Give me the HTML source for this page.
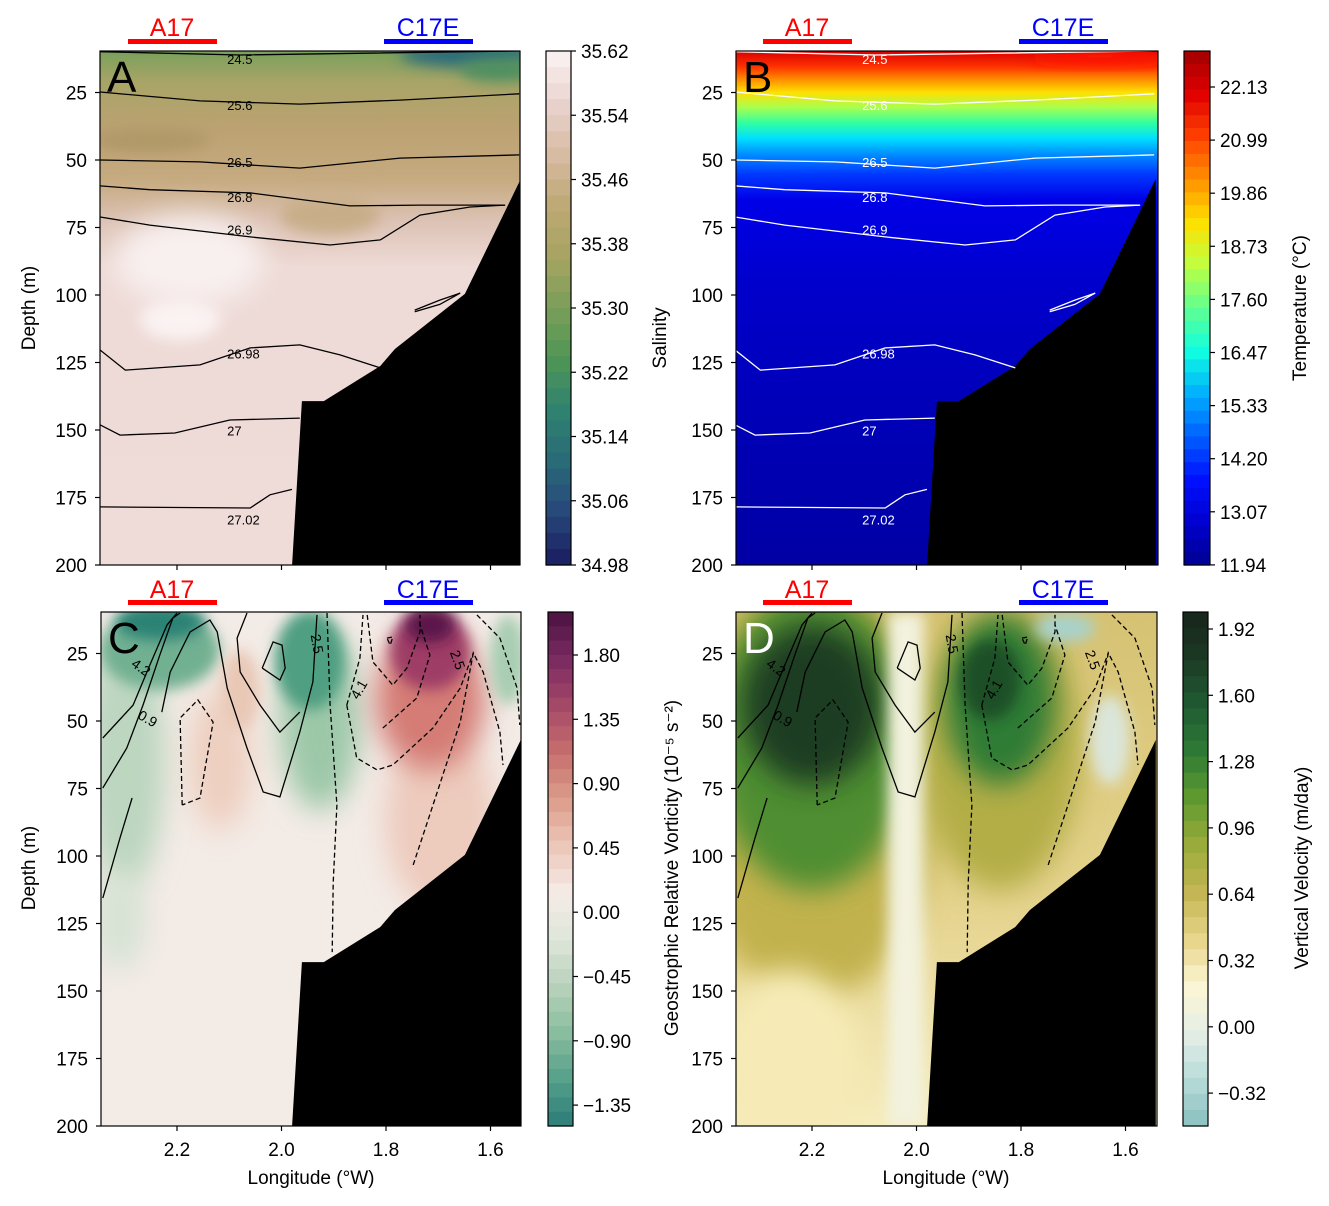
<!DOCTYPE html>
<html><head><meta charset="utf-8">
<style>
body{margin:0;background:#fff;}
svg{display:block;font-family:"Liberation Sans","DejaVu Sans",sans-serif;}
</style></head>
<body>
<svg id="fig" width="1329" height="1206" viewBox="0 0 1329 1206" xmlns="http://www.w3.org/2000/svg">
<defs>
 <filter id="b1" x="-50%" y="-50%" width="200%" height="200%"><feGaussianBlur stdDeviation="14"/></filter>
 <filter id="b2" x="-50%" y="-50%" width="200%" height="200%"><feGaussianBlur stdDeviation="7"/></filter>
 <clipPath id="cA"><rect x="100" y="51" width="420" height="514"/></clipPath>
 <clipPath id="cB"><rect x="736" y="51" width="422" height="514"/></clipPath>
 <clipPath id="cC"><rect x="101" y="612" width="420" height="514"/></clipPath>
 <clipPath id="cD"><rect x="736" y="612" width="421" height="514"/></clipPath>
 <linearGradient id="gA" x1="0" y1="0" x2="0" y2="1">
  <stop offset="0" stop-color="#79a05c"/><stop offset="0.06" stop-color="#a8a466"/>
  <stop offset="0.15" stop-color="#bca272"/><stop offset="0.25" stop-color="#c6aa80"/>
  <stop offset="0.33" stop-color="#dcc2b4"/><stop offset="0.42" stop-color="#eedad6"/>
  <stop offset="1" stop-color="#efdcd9"/>
 </linearGradient>
 <linearGradient id="gB" x1="0" y1="0" x2="0" y2="1">
  <stop offset="0" stop-color="#d80000"/><stop offset="0.03" stop-color="#ff3000"/>
  <stop offset="0.055" stop-color="#ff8c00"/><stop offset="0.08" stop-color="#ffe000"/>
  <stop offset="0.11" stop-color="#a8ff50"/><stop offset="0.14" stop-color="#30ffa0"/>
  <stop offset="0.17" stop-color="#00e0ff"/><stop offset="0.20" stop-color="#0090ff"/>
  <stop offset="0.24" stop-color="#0038ff"/><stop offset="0.29" stop-color="#0000e8"/>
  <stop offset="0.45" stop-color="#0000cc"/><stop offset="0.7" stop-color="#0000b8"/>
  <stop offset="1" stop-color="#0000a4"/>
 </linearGradient>
 <linearGradient id="gD" x1="0" y1="0" x2="0" y2="1">
  <stop offset="0" stop-color="#d6c272"/><stop offset="0.55" stop-color="#e4d28c"/>
  <stop offset="1" stop-color="#f6ecbc"/>
 </linearGradient>
</defs>
<g id="root"></g>
</svg>
<script>
// ---------- data ----------
const depthTicks = [25,50,75,100,125,150,175,200];
const lonTicks = [2.2,2.0,1.8,1.6];
const lonTickLabels = ["2.2","2.0","1.8","1.6"];
// bathymetry (lon, depth)
const bathyLon = [1.980,1.961,1.919,1.811,1.783,1.649,1.542,1.542];
const bathyDep = [200.5,139.3,139.3,126.3,120.0,99.6,57.0,200.5];
// isopycnals panels A/B
const isoNames = ["24.5","25.6","26.5","26.8","26.9","26.98","27","27.02"];
const isoLon = [
 [2.347,2.079,1.545],
 [2.347,2.156,1.965,1.773,1.545],
 [2.347,2.156,1.965,1.773,1.545],
 [2.347,2.252,2.060,1.869,1.735,1.572],
 [2.347,2.252,2.060,1.907,1.811,1.735,1.639,1.572],
 [2.347,2.299,2.156,2.060,1.965,1.888,1.811],
 [2.347,2.309,2.204,2.099,1.965],
 [2.347,2.060,2.022,1.980]
];
const isoDep = [
 [9.9,11.1,9.6],
 [24.8,28.1,29.3,27.8,25.5],
 [50.0,50.7,53.0,49.3,48.1],
 [59.6,61.0,62.2,67.0,66.7,66.7],
 [71.1,74.1,78.5,81.5,79.6,70.4,67.4,66.7],
 [120.4,127.8,125.9,119.6,118.5,122.2,127.0],
 [148.1,151.9,151.1,146.3,145.6],
 [178.5,178.9,174.0,172.0]
];
const isoLabelDep = [14.5,31.5,52.5,65.5,77.5,123.5,152,185];
const smallIsoLon = [1.745,1.697,1.658,1.697,1.745];
const smallIsoDep = [105.6,101.9,99.3,103.5,106.2];
// contours panels C/D
const cLon = [
 [2.342,2.284,2.252,2.219,2.200],
 [2.342,2.296,2.265,2.233,2.208,2.194],
 [2.342,2.309,2.286],
 [2.229,2.213,2.175,2.137,2.123,2.104,2.066,2.035,2.003,1.965,1.940,1.932],
 [2.066,2.085,2.079,2.041,2.003,1.965],
 [2.037,2.016,1.999,1.993,2.003,2.037],
 [2.190,2.194,2.160,2.131,2.156,2.190],
 [1.913,1.907,1.894,1.901,1.903],
 [1.875,1.850,1.844],
 [1.875,1.856,1.817,1.787,1.710,1.658,1.633],
 [1.836,1.825,1.787,1.760,1.735,1.735],
 [1.806,1.741,1.716,1.735],
 [1.748,1.710,1.658,1.633,1.614,1.582,1.576],
 [1.626,1.582,1.549,1.544],
 [1.798,1.787,1.792,1.798]
];
const cDep = [
 [56.3,44.1,29.3,14.4,10.0],
 [74.8,60.0,44.1,25.6,11.9,10.0],
 [115.6,93.3,78.5],
 [46.7,31.9,17.0,12.6,17.0,37.8,60.0,76.3,78.1,54.1,35.5,10.7],
 [10.0,19.3,31.9,44.1,54.1,46.7],
 [30.4,20.7,21.9,30.4,34.8,30.4],
 [81.1,48.9,42.2,50.4,78.5,81.1],
 [10.0,44.1,81.1,110,135.6],
 [44.1,26.7,10.7],
 [44.1,63.7,68.1,66.3,52.6,37.8,24.8],
 [10.7,28.1,36.7,30.4,17.0,10.7],
 [52.6,41.5,25.6,14.4],
 [103.3,81.1,50.4,24.8,31.9,54.1,66.3],
 [10.7,19.3,37.8,51.5],
 [19.3,18.9,21.9,19.3]
];
const cDash = [0,0,0,0,0,0,1,1,1,1,1,1,1,1,1];
const cLabels = ["4.2","0.9","2.5","4.1","2.5"];
const cLabLon = [2.270,2.257,1.934,1.850,1.665];
const cLabDep = [30.5,49.5,21.5,38.5,27.5];
const cLabRot = [35,30,80,-60,70];
// colorbars
const cbTicksA = ["35.62","35.54","35.46","35.38","35.30","35.22","35.14","35.06","34.98"];
const cbColsA = ["#faf3f3","#ead3cf","#d9bca4","#bea874","#a8a462","#7a9e58","#4f9556","#2f8270","#2a6a78","#27477a","#1a1c60"];
const cbTicksB = ["22.13","20.99","19.86","18.73","17.60","16.47","15.33","14.20","13.07","11.94"];
const cbColsB = ["#a00000","#e00000","#ff4000","#ff9000","#ffe000","#c0ff40","#60ff90","#10ffe0","#00b0ff","#0060ff","#0010ff","#0000d0","#000090"];
const cbTicksC = ["1.80","1.35","0.90","0.45","0.00","\u22120.45","\u22120.90","\u22121.35"];
const cbColsC = ["#4a1240","#7a2a62","#a54868","#c66e6e","#dc9c8a","#ecc6b8","#f5ebe6","#dfe6da","#b8d2bc","#8abd9f","#55a08a","#2d7c78"];
const cbTicksD = ["1.92","1.60","1.28","0.96","0.64","0.32","0.00","\u22120.32"];
const cbColsD = ["#17241a","#1c3a24","#1f5a32","#2e7a34","#609a30","#9aab3a","#c4b654","#e6d488","#fcf6d4","#e6efe6","#b8dcd8","#88c0c0"];

// ---------- helpers ----------
const NS="http://www.w3.org/2000/svg";
const root=document.getElementById('root');
function mk(tag, attrs, parent){const e=document.createElementNS(NS,tag);for(const k in attrs)e.setAttribute(k,attrs[k]);(parent||root).appendChild(e);return e;}
function X(col,lon){return (col?812:177)+(2.2-lon)*522.5;}
function Y(row,d){return (row?1126:565)-(200-d)*2.7;}
function pts(col,row,lons,deps){return lons.map((l,i)=>X(col,l).toFixed(1)+","+Y(row,deps[i]).toFixed(1)).join(" ");}
function hex2rgb(h){return [1,3,5].map(i=>parseInt(h.substr(i,2),16));}
function interp(cols,t){const n=cols.length-1;const f=t*n;const i=Math.min(Math.floor(f),n-1);const u=f-i;const a=hex2rgb(cols[i]),b=hex2rgb(cols[i+1]);return "rgb("+a.map((v,k)=>Math.round(v+(b[k]-v)*u)).join(",")+")";}

const panels=[
 {id:"A",col:0,row:0,x0:100,x1:520,clip:"cA"},
 {id:"B",col:1,row:0,x0:736,x1:1158,clip:"cB"},
 {id:"C",col:0,row:1,x0:101,x1:521,clip:"cC"},
 {id:"D",col:1,row:1,x0:736,x1:1157,clip:"cD"}
];

function blob(g,cx,cy,rx,ry,fill,f){const e=mk('ellipse',{cx:cx,cy:cy,rx:rx,ry:ry,fill:fill,filter:'url(#'+(f||'b1')+')'},g);return e;}

panels.forEach(p=>{
 const top=p.row?612:51, bot=p.row?1126:565;
 const g=mk('g',{'clip-path':'url(#'+p.clip+')'});
 
 
 const w=p.x1-p.x0,h=bot-top;
 if(p.id==="A"){
  mk('rect',{x:p.x0,y:top,width:w,height:h,fill:'url(#gA)'},g);
  blob(g,470,55,70,12,'#2c6a7c','b2');
  blob(g,500,70,40,12,'#4f9060','b2');
  blob(g,150,140,60,12,'#b09868','b2');
  blob(g,330,215,50,20,'#c8ae88','b2');
  blob(g,190,260,75,45,'#f8f0ef','b1');
  blob(g,180,320,40,20,'#faf3f2','b2');
 } else if(p.id==="B"){
  mk('rect',{x:p.x0,y:top,width:w,height:h,fill:'url(#gB)'},g);
  blob(g,1100,56,70,8,'#ff1800','b2');
 } else if(p.id==="C"){
  mk('rect',{x:p.x0,y:top,width:w,height:h,fill:'#f3ebe6'},g);
  blob(g,440,820,55,90,'#edcbbd');
  blob(g,220,760,32,70,'#eecfc0');
  blob(g,125,760,40,130,'#bcd6c0');
  blob(g,120,920,25,50,'#d6e2d4');
  blob(g,320,720,40,90,'#9cc8a8');
  blob(g,310,660,35,50,'#4f9f82','b2');
  blob(g,160,650,60,40,'#72b092','b2');
  blob(g,160,622,45,18,'#2a8274','b2');
  blob(g,430,700,55,70,'#d47c74');
  blob(g,430,650,40,40,'#9e3c66','b2');
  blob(g,430,625,25,18,'#5c164c','b2');
  blob(g,508,660,18,45,'#a8cdb2','b2');
  blob(g,240,690,20,40,'#e9c8b6','b2');
 } else {
  mk('rect',{x:p.x0,y:top,width:w,height:h,fill:'url(#gD)'},g);
  blob(g,812,790,125,210,'#c2b24e');
  blob(g,812,740,100,150,'#4f8e30');
  blob(g,812,705,70,80,'#1f3d22');
  blob(g,1000,750,80,140,'#b4ae46');
  blob(g,1000,700,55,85,'#2f7c36');
  blob(g,990,680,30,40,'#1d4f26','b2');
  mk('rect',{x:888,y:612,width:36,height:514,fill:'#f2f2de',filter:'url(#b2)'},g);
  blob(g,1110,740,20,45,'#dbe6da','b2');
  blob(g,1065,628,30,14,'#a8d2cc','b2');
  blob(g,790,1060,70,90,'#f6ebb6');
 }
 // bathymetry
 const bp=mk('polygon',{points:pts(p.col,p.row,bathyLon,bathyDep),fill:'#000'},g);
 
 
 // contours
 if(p.row===0){
  const col=p.id==="A"?'#000':'#fff';
  isoLon.forEach((ls,i)=>{
   const l=mk('polyline',{points:pts(p.col,p.row,ls,isoDep[i]),fill:'none',stroke:col,'stroke-width':1.3},g);
   
   
   const t=mk('text',{x:X(p.col,2.104),y:Y(p.row,isoLabelDep[i]),'font-size':13,fill:col},g);
   t.textContent=isoNames[i];
   
   
  });
  mk('polyline',{points:pts(p.col,p.row,smallIsoLon,smallIsoDep),fill:'none',stroke:col,'stroke-width':1.3},g);
 } else {
  cLon.forEach((ls,i)=>{
   const a={points:pts(p.col,p.row,ls,cDep[i]),fill:'none',stroke:'#000','stroke-width':1.3};
   if(cDash[i])a['stroke-dasharray']='5,3';
   const l=mk('polyline',a,g);
   
   
  });
  cLabels.forEach((s,i)=>{
   const x=X(p.col,cLabLon[i]),y=Y(p.row,cLabDep[i]);
   const t=mk('text',{x:x,y:y,'font-size':14,fill:'#000','text-anchor':'middle','dominant-baseline':'middle',transform:'rotate('+cLabRot[i]+' '+x+' '+y+')'},g);
   t.textContent=s;
   
   
  });
 }
 // frame
 const fr=mk('rect',{x:p.x0,y:top,width:w,height:h,fill:'none',stroke:'#000','stroke-width':1.2});
 
 
 // panel letter
 const L=mk('text',{x:p.x0+7,y:top+41,'font-size':44,fill:p.id==="D"?'#fff':'#000'});
 L.textContent=p.id;
 
 
 // y ticks
 depthTicks.forEach(d=>{
  const y=Y(p.row,d);
  mk('line',{x1:p.x0-5,x2:p.x0,y1:y,y2:y,stroke:'#000','stroke-width':1.2});
  const t=mk('text',{x:p.x0-13,y:y+7,'font-size':19,'text-anchor':'end'});
  t.textContent=d;
  
  
 });
 // x ticks
 lonTicks.forEach((lo,i)=>{
  const x=X(p.col,lo);
  mk('line',{x1:x,x2:x,y1:bot,y2:bot+5,stroke:'#000','stroke-width':1.2});
  if(p.row===1){
   const t=mk('text',{x:x,y:bot+30,'font-size':19,'text-anchor':'middle'});
   t.textContent=lonTickLabels[i];
   
   
  }
 });
 // station markers
 const ty=p.row?598:36, by=p.row?600:39;
 const a1=mk('text',{x:X(p.col,2.2)-5,y:ty,'font-size':25,'text-anchor':'middle',fill:'#f00'});
 a1.textContent='A17';
 
 
 mk('rect',{x:X(p.col,2.2)-49,y:by,width:89,height:5,fill:'#f00'});
 const a2=mk('text',{x:X(p.col,2.2)+251,y:ty,'font-size':25,'text-anchor':'middle',fill:'#00f'});
 a2.textContent='C17E';
 
 
 mk('rect',{x:X(p.col,2.2)+207,y:by,width:89,height:5,fill:'#00f'});
});

// axis titles
function txt(s,x,y,size,rot,name){const a={x:x,y:y,'font-size':size,'text-anchor':'middle'};if(rot)a.transform='rotate(-90 '+x+' '+y+')';const t=mk('text',a);t.textContent=s;return t;}
txt('Depth (m)',35,308,19,1,'y-axis-title-top');
txt('Depth (m)',35,868,19,1,'y-axis-title-bottom');
txt('Longitude (\u00b0W)',311,1184,19,0,'x-axis-title-left');
txt('Longitude (\u00b0W)',946,1184,19,0,'x-axis-title-right');

// colorbars
const cbs=[
 {x:546,y0:51,y1:565,w:25,cols:cbColsA,ticks:cbTicksA,t0:51,dt:64.25,n:32,title:'Salinity',tx:666,ty:338,name:'salinity'},
 {x:1184,y0:51,y1:565,w:26,cols:cbColsB,ticks:cbTicksB,t0:87,dt:53.1,n:40,title:'Temperature (\u00b0C)',tx:1306,ty:308,name:'temperature'},
 {x:548,y0:612,y1:1126,w:25,cols:cbColsC,ticks:cbTicksC,t0:655,dt:64.3,n:36,title:'Geostrophic Relative Vorticity (10\u207b\u2075 s\u207b\u00b2)',tx:678,ty:868,name:'vorticity'},
 {x:1183,y0:612,y1:1126,w:25,cols:cbColsD,ticks:cbTicksD,t0:629,dt:66.3,n:32,title:'Vertical Velocity (m/day)',tx:1308,ty:868,name:'velocity'}
];
cbs.forEach(c=>{
 const g=mk('g',{});
 
 
 const h=(c.y1-c.y0)/c.n;
 for(let i=0;i<c.n;i++){
  mk('rect',{x:c.x,y:c.y0+i*h,width:c.w,height:h+0.6,fill:interp(c.cols,(i+0.5)/c.n)},g);
 }
 mk('rect',{x:c.x,y:c.y0,width:c.w,height:c.y1-c.y0,fill:'none',stroke:'#000','stroke-width':1.2},g);
 c.ticks.forEach((s,i)=>{
  const y=c.t0+i*c.dt;
  mk('line',{x1:c.x+c.w,x2:c.x+c.w+5,y1:y,y2:y,stroke:'#000','stroke-width':1.2},g);
  const t=mk('text',{x:c.x+c.w+10,y:y+7,'font-size':19},g);
  t.textContent=s;
  
  
 });
 txt(c.title,c.tx,c.ty,19,1,'colorbar-title-'+c.name);
});
</script>
</body></html>
